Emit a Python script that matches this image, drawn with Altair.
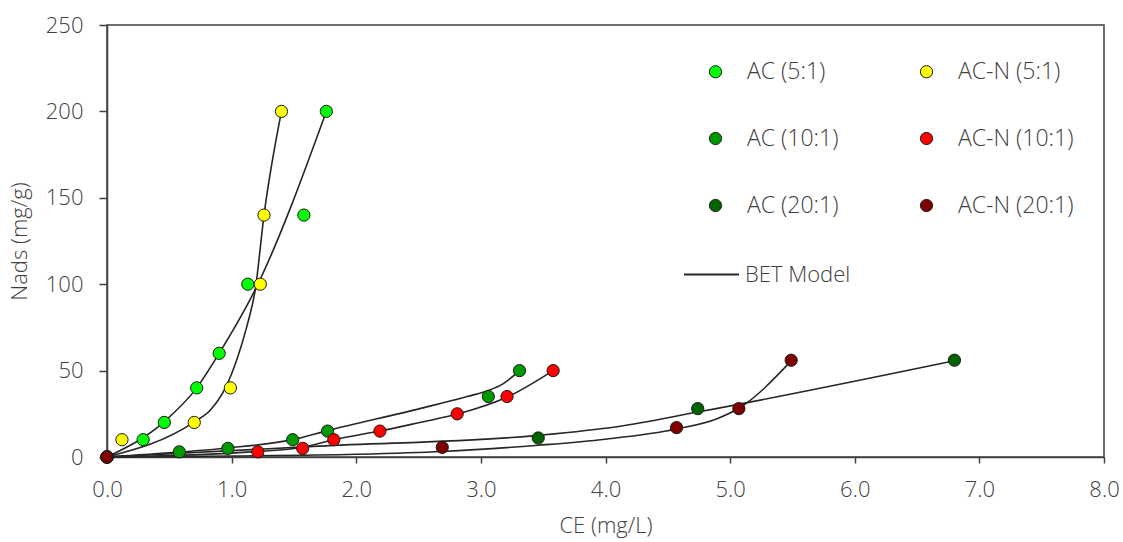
import altair as alt
import pandas as pd

# ---- measured points (CE mg/L, Nads mg/g) ----
series_names = ["AC (5:1)", "AC (10:1)", "AC (20:1)", "AC-N (5:1)", "AC-N (10:1)", "AC-N (20:1)"]
series_colors = ["#00FF00", "#009A00", "#006400", "#FFFF00", "#FF0000", "#7F0000"]

ac5_ce = [0, 0.29, 0.46, 0.72, 0.90, 1.13, 1.58, 1.76]
ac5_n = [0, 10, 20, 40, 60, 100, 140, 200]
acn5_ce = [0, 0.12, 0.70, 0.99, 1.23, 1.26, 1.40]
acn5_n = [0, 10, 20, 40, 100, 140, 200]
ac10_ce = [0, 0.58, 0.97, 1.49, 1.77, 3.06, 3.31]
ac10_n = [0, 3, 5, 10, 15, 35, 50]
acn10_ce = [0, 1.21, 1.57, 1.82, 2.19, 2.81, 3.21, 3.58]
acn10_n = [0, 3, 5, 10, 15, 25, 35, 50]
ac20_ce = [0, 3.46, 4.74, 6.80]
ac20_n = [0, 11, 28, 56]
acn20_ce = [0, 2.69, 4.57, 5.07, 5.49]
acn20_n = [0, 5.6, 17, 28, 56]

# ---- BET model curves ----
bet_ac5_ce = [0, 0.46, 0.72, 0.90, 1.19, 1.76]
bet_ac5_n = [0, 20.5, 40, 60, 97, 200]
bet_acn5_ce = [0, 0.70, 0.83, 0.95, 1.04, 1.12, 1.19, 1.26, 1.40]
bet_acn5_n = [0, 20.3, 27.2, 40, 56, 75, 97, 140, 200]
bet_ac10_ce = [0, 0.58, 0.97, 1.50, 1.78, 2.51, 2.89, 3.06, 3.18, 3.31]
bet_ac10_n = [0, 2.8, 5.2, 10.2, 15.4, 28, 35, 38.5, 42.5, 50]
bet_acn10_ce = [0, 1.21, 1.57, 1.82, 2.19, 2.51, 2.82, 3.22, 3.58]
bet_acn10_n = [0, 3.2, 5.6, 10, 15, 20, 25, 35, 50]
bet_ac20_ce = [0, 1.7, 3.46, 4.09, 4.74, 6.80]
bet_ac20_n = [0, 6.3, 12.5, 17.5, 26, 55.7]
bet_acn20_ce = [0, 1.0, 2.0, 2.69, 3.46, 4.0, 4.57, 4.89, 5.07, 5.49]
bet_acn20_n = [0, 0.6, 1.6, 3.2, 6.8, 10.3, 16.2, 22, 28.2, 55.6]

x_ticks = [0, 1, 2, 3, 4, 5, 6, 7, 8]
y_ticks = [0, 50, 100, 150, 200, 250]

# drawing order (dark red last, on top)
draw_order = ["AC (5:1)", "AC-N (5:1)", "AC (10:1)", "AC-N (10:1)", "AC (20:1)", "AC-N (20:1)"]
pts_src = {"AC (5:1)": (ac5_ce, ac5_n), "AC-N (5:1)": (acn5_ce, acn5_n),
           "AC (10:1)": (ac10_ce, ac10_n), "AC-N (10:1)": (acn10_ce, acn10_n),
           "AC (20:1)": (ac20_ce, ac20_n), "AC-N (20:1)": (acn20_ce, acn20_n)}
bet_src = {"AC (5:1)": (bet_ac5_ce, bet_ac5_n), "AC-N (5:1)": (bet_acn5_ce, bet_acn5_n),
           "AC (10:1)": (bet_ac10_ce, bet_ac10_n), "AC-N (10:1)": (bet_acn10_ce, bet_acn10_n),
           "AC (20:1)": (bet_ac20_ce, bet_ac20_n), "AC-N (20:1)": (bet_acn20_ce, bet_acn20_n)}

rows = []
for name in draw_order:
    xs, ys = pts_src[name]
    for a, b in zip(xs, ys):
        rows.append({"CE": a, "Nads": b, "series": name})
pts = pd.DataFrame(rows)

rows = []
for name in draw_order:
    xs, ys = bet_src[name]
    for a, b in zip(xs, ys):
        rows.append({"CE": a, "Nads": b, "series": name, "model": "BET Model"})
bet = pd.DataFrame(rows)

FONT = "Open Sans"
TXT = "#404040"
FS = 22

x_enc = alt.X("CE:Q", scale=alt.Scale(domain=[0, 8], nice=False),
              axis=alt.Axis(values=x_ticks, format=".1f", title="CE (mg/L)", labelFlush=False,
                            tickSize=6, labelPadding=16, titlePadding=15))
y_enc = alt.Y("Nads:Q", scale=alt.Scale(domain=[0, 250], nice=False),
              axis=alt.Axis(values=y_ticks, title="Nads (mg/g)", labelFlush=False,
                            tickSize=8, labelPadding=16, titleX=-76))

lines = alt.Chart(bet).mark_line(interpolate="monotone", strokeWidth=1.6).encode(
    x=x_enc, y=y_enc,
    detail="series:N",
    stroke=alt.Stroke("model:N",
                      scale=alt.Scale(domain=["BET Model"], range=["#262626"]),
                      legend=alt.Legend(title=None, orient="none", legendX=576, legendY=221,
                                        symbolType="stroke", symbolSize=3025,
                                        symbolStrokeWidth=1.8, labelOffset=5,
                                        labelFontSize=FS, labelColor=TXT, labelFont=FONT,
                                        labelFontWeight=300)),
)

points = alt.Chart(pts).mark_circle(size=150, opacity=1, stroke="#1a1a1a", strokeWidth=1).encode(
    x=x_enc, y=y_enc,
    color=alt.Color("series:N",
                    scale=alt.Scale(domain=series_names, range=series_colors),
                    legend=alt.Legend(title=None, orient="none", legendX=597, legendY=35,
                                      columns=2, columnPadding=76, rowPadding=43,
                                      symbolSize=150, symbolStrokeColor="#1a1a1a",
                                      symbolStrokeWidth=1, symbolOpacity=1,
                                      labelOffset=20, labelFontSize=23,
                                      labelColor=TXT, labelFont=FONT, labelFontWeight=300)),
)

chart = alt.layer(lines, points).resolve_scale(color="independent").properties(
    width=997, height=432,
    autosize=alt.AutoSizeParams(type="none"),
    padding={"left": 107, "top": 25, "right": 19, "bottom": 85},
).configure_view(
    stroke="#404040", strokeWidth=1.5
).configure_axis(
    grid=False, domainColor="#404040", domainWidth=1.5, tickColor="#404040", tickWidth=1.5,
    labelFont=FONT, labelFontSize=FS, labelColor=TXT, labelFontWeight=300,
    titleFont=FONT, titleFontSize=FS, titleColor=TXT, titleFontWeight=300
).configure_legend(padding=0)

chart.save("out.html", embed_options={"renderer": "svg", "actions": False})
